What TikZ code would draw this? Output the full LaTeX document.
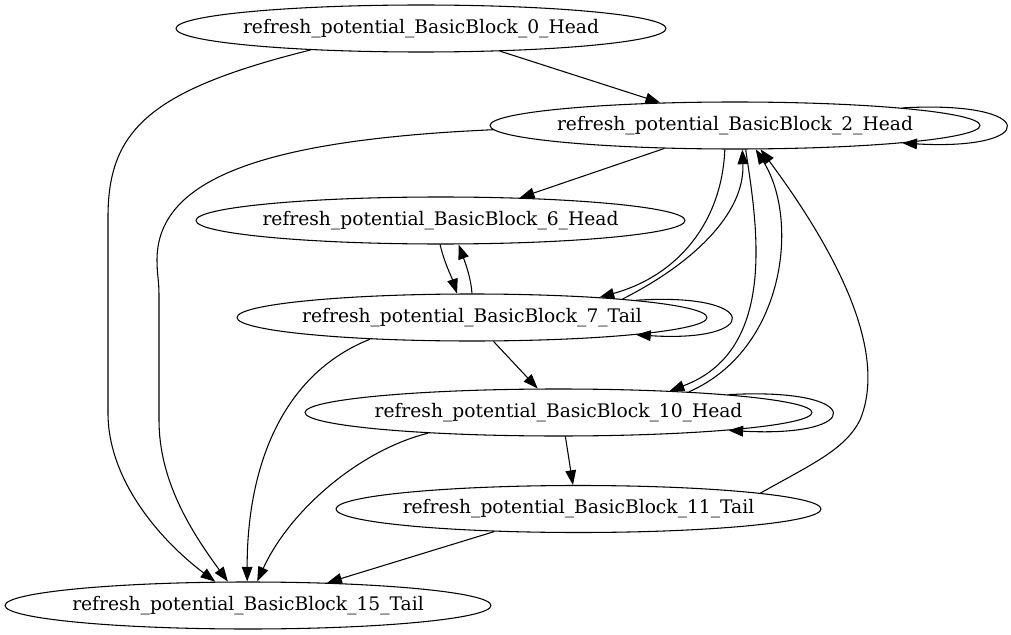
\documentclass[tikz,border=0pt]{standalone}
\usepackage{fontspec}
\setmainfont{DejaVu Serif}
\usetikzlibrary{arrows.meta, shapes.geometric}
\tikzset{%
	block/.style={
		ellipse,
		draw,
		minimum height=35.25pt,
		inner sep=0pt,
		font=\fontsize{14pt}{16pt}\selectfont
	},
}
\newcommand{\bbtext}[1]{\makebox[0pt]{#1}}

\begin{document}
\begin{tikzpicture}[x=0.75pt, y=-0.75pt, line width=0.8pt, >={Triangle[length=11pt, width=8pt]}]
	\useasboundingbox (0,0) rectangle (1011,635);

	% Draw the blocks
	\node[block, minimum width=367.5pt] (bb0) at (421,28.5) {\bbtext{refresh\_potential\_BasicBlock\_0\_Head}};
	\node[block, minimum width=367.5pt] (bb2) at (735,125.5) {\bbtext{refresh\_potential\_BasicBlock\_2\_Head}};
	\node[block, minimum width=366.75pt] (bb6) at (440.5,220.5) {\bbtext{refresh\_potential\_BasicBlock\_6\_Head}};
	\node[block, minimum width=352.5pt] (bb7) at (472,317.5) {\bbtext{refresh\_potential\_BasicBlock\_7\_Tail}};
	\node[block, minimum width=380.25pt] (bb10) at (558.5,412.5) {\bbtext{refresh\_potential\_BasicBlock\_10\_Head}};
	\node[block, minimum width=363.75pt] (bb11) at (578.5,509) {\bbtext{refresh\_potential\_BasicBlock\_11\_Tail}};
	\node[block, minimum width=364.5pt] (bb15) at (248,605.5) {\bbtext{refresh\_potential\_BasicBlock\_15\_Tail}};

	% Edges out of block 0
	\draw[->] (bb0.-16.8) -- (bb2.163.4);
	\draw[->] (bb0.191.3) .. controls (150,90) and (108,130) .. (108,217) -- (108,413) .. controls (108,480) and (160,540) .. (bb15.144.8);

	% Edges out of block 2
	\draw[->] (bb2.6) .. controls (1040,100) and (1040,151) .. (bb2.-6);
	\draw[->] (bb2.198.4) -- (bb6.16.7);
	\draw[->] (bb2.181.3) .. controls (260,140) and (157,180) .. (157,260) .. controls (157,275) and (159,280) .. (159,295) -- (159,420) .. controls (159,480) and (190,530) .. (bb15.130.5);
	\draw[->] (bb2.247) .. controls (722,220) and (680,275) .. (bb7.9.2);
	\draw[->] (bb2.-66.9) .. controls (756,220) and (780,350) .. (bb10.11);

	% Edges out of block 6
	\draw[->] (bb6.-91) .. controls (444,262) and (452,278) .. (bb7.122.6);

	% Edges out of block 7
	\draw[->] (bb7.90) .. controls (471,278) and (465,262) .. (bb6.-53.3);
	\draw[->] (bb7.7.6) .. controls (690,265) and (745,215) .. (bb2.-73.4);
	\draw[->] (bb7.6.06) .. controls (762,292) and (762,343) .. (bb7.-6.06);
	\draw[->] (bb7.-48.1) -- (bb10.131.2);
	\draw[->] (bb7.192) .. controls (280,375) and (247,470) .. (bb15.92.4);

	% Edges out of block 10
	\draw[->] (bb10.9.1) .. controls (785,350) and (800,220) .. (bb2.-49.5);
	\draw[->] (bb10.6) .. controls (866,387) and (866,438) .. (bb10.-6);
	\draw[->] (bb10.-74.5) -- (bb11.103.2);
	\draw[->] (bb10.189.4) .. controls (360,450) and (290,510) .. (bb15.69);

	% Edges out of block 11
	\draw[->] (bb11.5.9) .. controls (810,465) and (845,450) .. (860,420) .. controls (885,360) and (850,270) .. (bb2.-43.1);
	\draw[->] (bb11.195.8) -- (bb15.16.1);
\end{tikzpicture}
\end{document}
